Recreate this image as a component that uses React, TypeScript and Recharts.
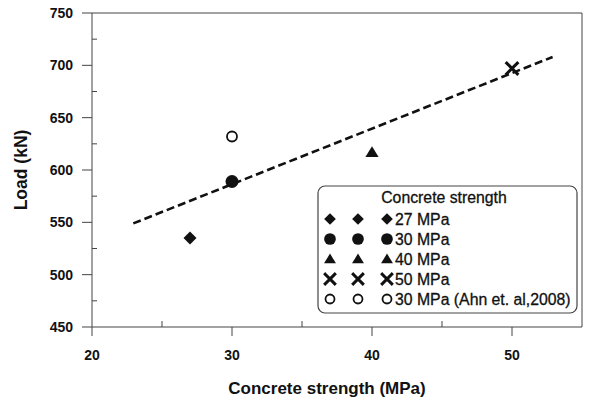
import { ScatterChart, Scatter, XAxis, YAxis, ReferenceLine, Label } from "recharts";

const FONT = '"Liberation Sans", Arial, Helvetica, sans-serif';
const INK = "#111";
const FRAME = "#444";

// series
const seriesNames = ["27 MPa", "30 MPa", "40 MPa", "50 MPa", "30 MPa (Ahn et. al,2008)"];
const markerKinds = ["diamond", "dot", "triangle", "x", "ring"];
const strengthX = [27, 30, 40, 50, 30];
const loadY = [535, 589, 617, 697, 632];

// dashed fit line end points
const trendX = [22.95, 52.9];
const trendY = [549, 708];

const xTicks = [20, 25, 30, 35, 40, 45, 50];
const xMajor = [20, 30, 40, 50];
const yTicks = [450, 475, 500, 525, 550, 575, 600, 625, 650, 675, 700, 725, 750];
const yMajor = [450, 500, 550, 600, 650, 700, 750];

const trendData = trendX.map((x, i) => ({ x, y: trendY[i] }));

const Marker = ({ kind, cx, cy, s = 1 }: { kind: string; cx: number; cy: number; s?: number }) => {
  if (kind === "diamond") {
    const h = 6.5 * s;
    return <polygon points={`${cx},${cy - h} ${cx + h},${cy} ${cx},${cy + h} ${cx - h},${cy}`} fill={INK} />;
  }
  if (kind === "dot") return <circle cx={cx} cy={cy} r={6.5 * s} fill={INK} />;
  if (kind === "triangle") {
    const h = 6 * s;
    return <polygon points={`${cx},${cy - h} ${cx + h * 1.1},${cy + h * 0.8} ${cx - h * 1.1},${cy + h * 0.8}`} fill={INK} />;
  }
  if (kind === "x") {
    const h = 5.3 * s;
    return (
      <g stroke={INK} strokeWidth={3} strokeLinecap="square">
        <line x1={cx - h} y1={cy - h} x2={cx + h} y2={cy + h} />
        <line x1={cx - h} y1={cy + h} x2={cx + h} y2={cy - h} />
      </g>
    );
  }
  return <circle cx={cx} cy={cy} r={5 * s} fill="#fff" stroke={INK} strokeWidth={1.8} />;
};

const XTick = (props: any) => {
  const { x, y, payload } = props;
  const major = xMajor.includes(payload.value);
  if (!major) return <line x1={x} y1={y} x2={x} y2={y - 6} stroke={FRAME} />;
  return (
    <g>
      <line x1={x} y1={y} x2={x} y2={y + 9} stroke={FRAME} />
      <text x={x} y={y + 33} textAnchor="middle" fontSize={14} fontWeight="bold" fontFamily={FONT} fill={INK}>
        {payload.value}
      </text>
    </g>
  );
};

const YTick = (props: any) => {
  const { x, y, payload } = props;
  const major = yMajor.includes(payload.value);
  if (!major) return <line x1={x} y1={y} x2={x + 5} y2={y} stroke={FRAME} />;
  return (
    <g>
      <line x1={x - 10} y1={y} x2={x} y2={y} stroke={FRAME} />
      <text x={x - 19} y={y} dy="0.36em" textAnchor="end" fontSize={14} fontWeight="bold" fontFamily={FONT} fill={INK}>
        {payload.value}
      </text>
    </g>
  );
};

const LegendBox = () => (
  <svg width={262} height={130} style={{ position: "absolute", left: 317, top: 185 }}>
    <rect x={1} y={1} width={259} height={127} rx={7} fill="#fff" stroke={FRAME} strokeWidth={1.2} />
    <text x={127} y={18} textAnchor="middle" fontSize={15.8} fontFamily={FONT} fill={INK} stroke={INK} strokeWidth={0.3}>
      Concrete strength
    </text>
    {seriesNames.map((name, i) => {
      const cy = 34 + i * 20;
      return (
        <g key={name}>
          {[13, 41, 70].map((cx) => (
            <Marker key={cx} kind={markerKinds[i]} cx={cx} cy={cy} s={0.9} />
          ))}
          <text x={78} y={cy} dy="0.36em" fontSize={15.8} fontFamily={FONT} fill={INK} stroke={INK} strokeWidth={0.3}>
            {name}
          </text>
        </g>
      );
    })}
  </svg>
);

export default function App() {
  return (
    <div style={{ position: "absolute", left: 0, top: 0, width: 591, height: 397, background: "#fff" }}>
      <ScatterChart width={591} height={397} margin={{ top: 13, right: 9, left: 32, bottom: 30 }}>
        <XAxis
          type="number"
          dataKey="x"
          domain={[20, 55]}
          ticks={xTicks}
          interval={0}
          allowDataOverflow
          height={40}
          tickSize={0}
          tickMargin={0}
          tickLine={false}
          tick={<XTick />}
          axisLine={{ stroke: FRAME }}
        >
          <Label
            content={() => (
              <text x={327} y={394} textAnchor="middle" fontSize={17} fontWeight="bold" fontFamily={FONT} fill={INK}>
                Concrete strength (MPa)
              </text>
            )}
          />
        </XAxis>
        <YAxis
          type="number"
          dataKey="y"
          domain={[450, 750]}
          ticks={yTicks}
          interval={0}
          allowDataOverflow
          width={60}
          tickSize={0}
          tickMargin={0}
          tickLine={false}
          tick={<YTick />}
          axisLine={{ stroke: FRAME }}
        >
          <Label
            content={() => (
              <text
                x={21}
                y={170}
                transform="rotate(-90 21 170)"
                textAnchor="middle"
                dy="0.36em"
                fontSize={17.5}
                fontWeight="bold"
                fontFamily={FONT}
                fill={INK}
              >
                Load (kN)
              </text>
            )}
          />
        </YAxis>
        <ReferenceLine y={750} stroke={FRAME} ifOverflow="visible" />
        <ReferenceLine x={55} stroke={FRAME} ifOverflow="visible" />
        <Scatter
          data={trendData}
          line={{ stroke: INK, strokeWidth: 2.6, strokeDasharray: "8 4" }}
          lineType="joint"
          shape={() => <g />}
          legendType="none"
          isAnimationActive={false}
        />
        {seriesNames.map((name, i) => (
          <Scatter
            key={name}
            name={name}
            data={[{ x: strengthX[i], y: loadY[i] }]}
            shape={(p: any) => <Marker kind={markerKinds[i]} cx={p.cx} cy={p.cy} />}
            isAnimationActive={false}
          />
        ))}
      </ScatterChart>
      <LegendBox />
    </div>
  );
}
